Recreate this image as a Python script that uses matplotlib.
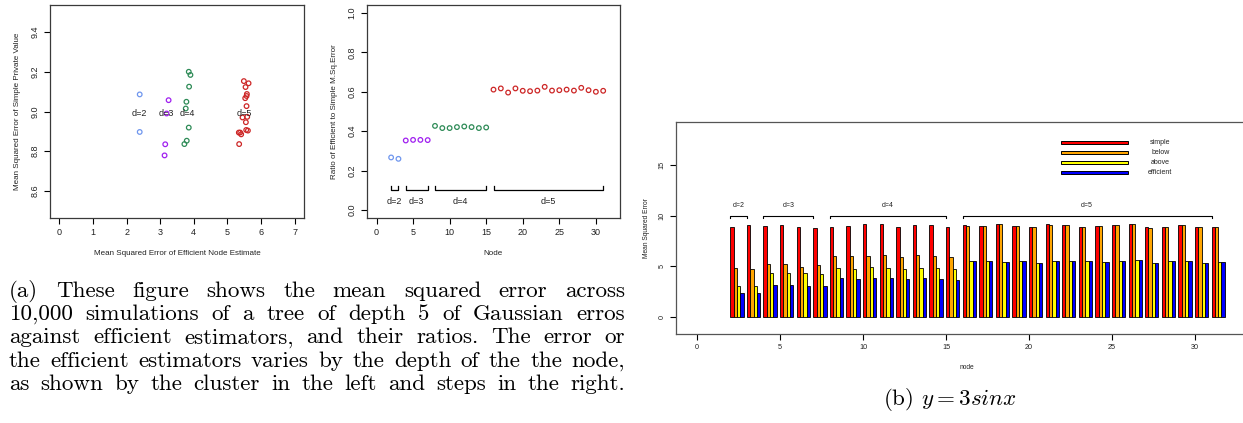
import matplotlib

matplotlib.use("Agg")
import matplotlib.pyplot as plt
import numpy as np
from matplotlib.patches import Rectangle

plt.rcParams["font.family"] = ["Liberation Sans", "DejaVu Sans"]
plt.rcParams["mathtext.fontset"] = "cm"

# --- panel (a) left: efficient vs simple MSE, by depth ---
depth_labels = ["d=2", "d=3", "d=4", "d=5"]
depth_colors = ["#6f96ee", "#a020f0", "#2e8b57", "#cd2626"]
eff_mse = [
    [2.39, 2.39],
    [3.25, 3.19, 3.15, 3.13],
    [3.85, 3.90, 3.86, 3.78, 3.76, 3.85, 3.79, 3.72],
    [5.49, 5.63, 5.54, 5.58, 5.57, 5.53, 5.57, 5.59,
     5.45, 5.55, 5.56, 5.61, 5.34, 5.41, 5.38, 5.35],
]
simple_mse = [
    [9.086, 8.897],
    [9.057, 8.990, 8.835, 8.779],
    [9.200, 9.184, 9.125, 9.049, 9.015, 8.919, 8.853, 8.836],
    [9.153, 9.142, 9.123, 9.088, 9.078, 9.067, 9.027, 8.973,
     8.970, 8.946, 8.907, 8.904, 8.894, 8.885, 8.894, 8.836],
]

# --- panel (a) right: ratio by node ---
depth_nodes = [[2, 3], [4, 5, 6, 7], list(range(8, 16)), list(range(16, 32))]
ratio = [
    [0.267, 0.260],
    [0.353, 0.356, 0.356, 0.355],
    [0.427, 0.416, 0.416, 0.421, 0.424, 0.421, 0.416, 0.419],
    [0.611, 0.617, 0.596, 0.617, 0.605, 0.603, 0.606, 0.625,
     0.606, 0.608, 0.611, 0.606, 0.620, 0.608, 0.600, 0.605],
]

# --- panel (b): bars per node ---
nodes = list(range(2, 32))
bar_series = ["simple", "below", "above", "efficient"]
bar_colors = ["#ff0000", "#ffa500", "#ffff00", "#0000ff"]
simple = [8.90, 9.10, 9.00, 9.05, 8.85, 8.80, 8.90, 9.00, 9.20, 9.20, 8.85, 9.10,
          9.05, 8.85, 9.05, 9.01, 9.21, 8.98, 8.91, 9.14, 9.11, 8.91, 9.01, 9.11,
          9.18, 8.85, 8.91, 9.11, 8.91, 8.91]
below = [4.80, 4.70, 5.20, 5.25, 4.95, 5.10, 6.00, 6.00, 6.05, 6.15, 5.95, 6.15,
         6.00, 5.90, 9.03, 9.00, 9.19, 8.96, 8.89, 9.12, 9.09, 8.89, 8.99, 9.09,
         9.16, 8.83, 8.89, 9.09, 8.89, 8.89]
above = [3.10, 3.10, 4.30, 4.35, 4.30, 4.20, 4.85, 4.75, 4.90, 4.85, 4.75, 4.80,
         4.80, 4.70, 5.56, 5.56, 5.46, 5.56, 5.36, 5.53, 5.49, 5.56, 5.43, 5.56,
         5.59, 5.36, 5.56, 5.56, 5.36, 5.39]
efficient = [2.40, 2.35, 3.20, 3.20, 3.10, 3.10, 3.80, 3.75, 3.80, 3.85, 3.75, 3.80,
             3.75, 3.70, 5.56, 5.56, 5.46, 5.56, 5.36, 5.53, 5.49, 5.56, 5.43, 5.56,
             5.59, 5.36, 5.56, 5.56, 5.36, 5.39]

caption_a = [
    "(a) These figure shows the mean squared error across",
    "10,000 simulations of a tree of depth 5 of Gaussian erros",
    "against efficient estimators, and their ratios. The error or",
    "the efficient estimators varies by the depth of the the node,",
    "as shown by the cluster in the left and steps in the right.",
]
caption_b = r"(b) $y = 3sinx$"

W, H = 1243, 423
fig = plt.figure(figsize=(W / 100, H / 100), dpi=100)


def px_axes(x0, y0, x1, y1):
    # axes from pixel box (top-left origin)
    return fig.add_axes([x0 / W, 1 - y1 / H, (x1 - x0) / W, (y1 - y0) / H])


def r_style(ax, tick_size, box_color="#3a3a3a"):
    for s in ax.spines.values():
        s.set_color(box_color)
        s.set_linewidth(0.9)
    ax.tick_params(direction="out", length=4.5, width=0.8, labelsize=tick_size,
                   colors="black", labelcolor="#222222", pad=3)
    ax.tick_params(axis="y", labelrotation=90)
    for lab in ax.get_yticklabels():
        lab.set_va("center")


# ---------- panel 1 ----------
ax1 = px_axes(50, 5, 304, 218)
for xs, ys, c, lab in zip(eff_mse, simple_mse, depth_colors, depth_labels):
    ax1.scatter(xs, ys, s=11, facecolors="none", edgecolors=c, linewidths=0.9, zorder=3)
    ax1.text(np.mean(xs), 8.99, lab, ha="center", va="center", fontsize=6.5, color="#222222")
ax1.set_xlim(-0.28, 7.28)
ax1.set_ylim(8.464, 9.536)
ax1.set_xticks(range(0, 8))
ax1.set_yticks([8.6, 8.8, 9.0, 9.2, 9.4])
r_style(ax1, 6.5)
ax1.set_xlabel("Mean Squared Error of Efficient Node Estimate", fontsize=5.8, labelpad=9, color="#222222")
ax1.set_ylabel("Mean Squared Error of Simple Private Value", fontsize=5.8, labelpad=7, color="#222222")

# ---------- panel 2 ----------
ax2 = px_axes(367, 5, 620, 218)
for xs, ys, c, lab in zip(depth_nodes, ratio, depth_colors, depth_labels):
    ax2.scatter(xs, ys, s=11, facecolors="none", edgecolors=c, linewidths=0.9, zorder=3)
    ax2.plot([xs[0], xs[0], xs[-1], xs[-1]], [0.12, 0.1, 0.1, 0.12], color="black", lw=0.9)
    ax2.text((xs[0] + xs[-1]) / 2, 0.046, lab, ha="center", va="center", fontsize=6.5, color="#222222")
ax2.set_xlim(-1.3, 33.3)
ax2.set_ylim(-0.04, 1.04)
ax2.set_xticks(range(0, 31, 5))
ax2.set_yticks([0.0, 0.2, 0.4, 0.6, 0.8, 1.0])
r_style(ax2, 6.5)
ax2.set_xlabel("Node", fontsize=5.8, labelpad=9, color="#222222")
ax2.set_ylabel("Ratio of Efficient to Simple M.Sq.Error", fontsize=5.8, labelpad=7, color="#222222")

# ---------- panel 3 ----------
ax3 = px_axes(676, 122, 1258, 334)
bw = 0.2
for k, (vals, c) in enumerate(zip([simple, below, above, efficient], bar_colors)):
    ax3.bar(np.array(nodes) + k * bw, vals, width=bw, align="edge", color=c,
            edgecolor="black", linewidth=0.6, zorder=2)
for xs, lab in zip(depth_nodes, depth_labels):
    ax3.plot([xs[0], xs[0], xs[-1], xs[-1]], [9.8, 10.0, 10.0, 9.8], color="black", lw=0.8)
    ax3.text((xs[0] + xs[-1]) / 2, 11.0, lab, ha="center", va="center", fontsize=5, color="#222222")
ax3.set_xlim(-1.27, 33.8)
ax3.set_ylim(-1.68, 19.25)
ax3.set_xticks(range(0, 31, 5))
ax3.set_yticks([0, 5, 10, 15])
r_style(ax3, 5.2, box_color="#555555")
ax3.set_xlabel("node", fontsize=4.8, labelpad=9, color="#222222")
ax3.set_ylabel("Mean Squared Error", fontsize=4.8, labelpad=6, color="#222222")

# legend drawn by hand: long swatches, labels centred to the right
for i, (lab, c) in enumerate(zip(bar_series, bar_colors)):
    yc = 0.905 - i * 0.047
    ax3.add_patch(Rectangle((0.661, yc - 0.007), 0.116, 0.014, transform=ax3.transAxes,
                            facecolor=c, edgecolor="black", lw=0.7, zorder=4))
    ax3.text(0.832, yc, lab, transform=ax3.transAxes, ha="center", va="center",
             fontsize=5, color="#222222")

# ---------- captions (justified lines, like the LaTeX subcaption) ----------
fig.canvas.draw()
renderer = fig.canvas.get_renderer()
x_left, x_right = 9, 625
for i, line in enumerate(caption_a):
    words = line.split(" ")
    y = 1 - (296.7 + i * 23.3) / H
    texts = [fig.text(0, y, w, fontfamily="cmr10", fontsize=16.6, va="baseline") for w in words]
    widths = [t.get_window_extent(renderer).width for t in texts]
    gap = (x_right - x_left - sum(widths)) / (len(words) - 1)
    x = x_left
    for t, w in zip(texts, widths):
        t.set_x(x / W)
        x += w + gap

fig.text(950 / W, 1 - 405 / H, caption_b, fontfamily="cmr10", fontsize=16.6,
         ha="center", va="baseline")

fig.savefig("out.png", dpi=100)
